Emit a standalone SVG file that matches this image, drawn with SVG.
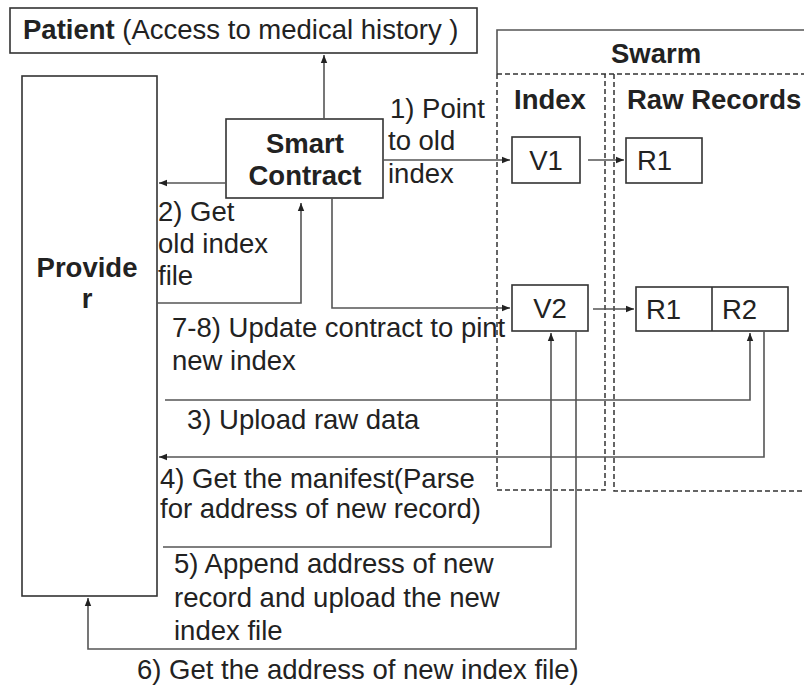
<svg xmlns="http://www.w3.org/2000/svg" width="804" height="686" viewBox="0 0 804 686">
<defs>
<marker id="ah" viewBox="0 0 10 10" refX="10" refY="5" markerWidth="8" markerHeight="8" markerUnits="userSpaceOnUse" orient="auto">
<path d="M0,1 L10,5 L0,9 z" fill="#222"/>
</marker>
<style>
.box{fill:#fff;stroke:#333;stroke-width:1.6}
.dash{fill:none;stroke:#333;stroke-width:1.5;stroke-dasharray:5 3}
.ln{fill:none;stroke:#555;stroke-width:1.6}
.t{font-family:"Liberation Sans",Arial,sans-serif;font-size:27.5px;fill:#222}
.b{font-weight:bold}
</style>
</defs>
<rect width="804" height="686" fill="#fff"/>

<g id="patient">
<rect class="box" x="10" y="8" width="467" height="45"/>
<text class="t" x="23" y="39"><tspan class="b">Patient</tspan> (Access to medical history )</text>
</g>

<g id="swarm">
<path class="ln" d="M497,74 V30 H806"/>
<path class="dash" d="M497,74 H806"/>
<text class="t b" x="656" y="63" text-anchor="middle">Swarm</text>
</g>
<g id="index-col">
<path class="dash" d="M497,74 V490 H605 V74"/>
<text class="t b" x="514" y="109">Index</text>
</g>
<g id="raw-col">
<path class="dash" d="M614,74 V491 H806"/>
<text class="t b" x="627" y="109">Raw Records</text>
</g>

<g id="provider">
<rect class="box" x="22" y="76" width="135" height="520"/>
<text class="t b" x="87" y="277" text-anchor="middle">Provide</text>
<text class="t b" x="87" y="308" text-anchor="middle">r</text>
</g>

<g id="smart-contract">
<rect class="box" x="226" y="119" width="157" height="79"/>
<text class="t b" x="305" y="153" text-anchor="middle">Smart</text>
<text class="t b" x="305" y="185" text-anchor="middle">Contract</text>
</g>

<g id="v1">
<rect class="box" x="512" y="137" width="68" height="46"/>
<text class="t" x="546" y="170" text-anchor="middle">V1</text>
</g>
<g id="r1-old">
<rect class="box" x="626" y="138" width="76" height="45"/>
<text class="t" x="637" y="170">R1</text>
</g>
<g id="v2">
<rect class="box" x="512" y="285" width="76" height="46"/>
<text class="t" x="550" y="318" text-anchor="middle">V2</text>
</g>
<g id="r1-r2">
<rect class="box" x="636" y="287" width="152" height="44"/>
<line class="box" x1="712" y1="287" x2="712" y2="331"/>
<text class="t" x="646" y="319">R1</text>
<text class="t" x="722" y="319">R2</text>
</g>

<g id="connectors">
<path class="ln" d="M324,119 V55" marker-end="url(#ah)"/>
<path class="ln" d="M226,183 H159" marker-end="url(#ah)"/>
<path class="ln" d="M383,160 H510" marker-end="url(#ah)"/>
<path class="ln" d="M588,160 H624" marker-end="url(#ah)"/>
<path class="ln" d="M157,303 H301 V203" marker-end="url(#ah)"/>
<path class="ln" d="M332,198 V308 H510" marker-end="url(#ah)"/>
<path class="ln" d="M593,309 H634" marker-end="url(#ah)"/>
<path class="ln" d="M165,400 H750 V333" marker-end="url(#ah)"/>
<path class="ln" d="M764,331 V457 H159" marker-end="url(#ah)"/>
<path class="ln" d="M163,547 H551 V333" marker-end="url(#ah)"/>
<path class="ln" d="M576,331 V649 H88 V598" marker-end="url(#ah)"/>
</g>

<g id="labels">
<text class="t" x="390" y="118">1) Point</text>
<text class="t" x="388" y="150">to old</text>
<text class="t" x="388" y="183">index</text>
<text class="t" x="158" y="221">2) Get</text>
<text class="t" x="158" y="253">old index</text>
<text class="t" x="158" y="285">file</text>
<text class="t" x="172" y="337">7-8) Update contract to pint</text>
<text class="t" x="172" y="370">new index</text>
<text class="t" x="187" y="429">3) Upload raw data</text>
<text class="t" x="160" y="488">4) Get the manifest(Parse</text>
<text class="t" x="160" y="518">for address of new record)</text>
<text class="t" x="174" y="573">5) Append address of new</text>
<text class="t" x="174" y="607">record and upload the new</text>
<text class="t" x="174" y="640">index file</text>
<text class="t" x="137" y="679">6) Get the address of new index file)</text>
</g>
</svg>
